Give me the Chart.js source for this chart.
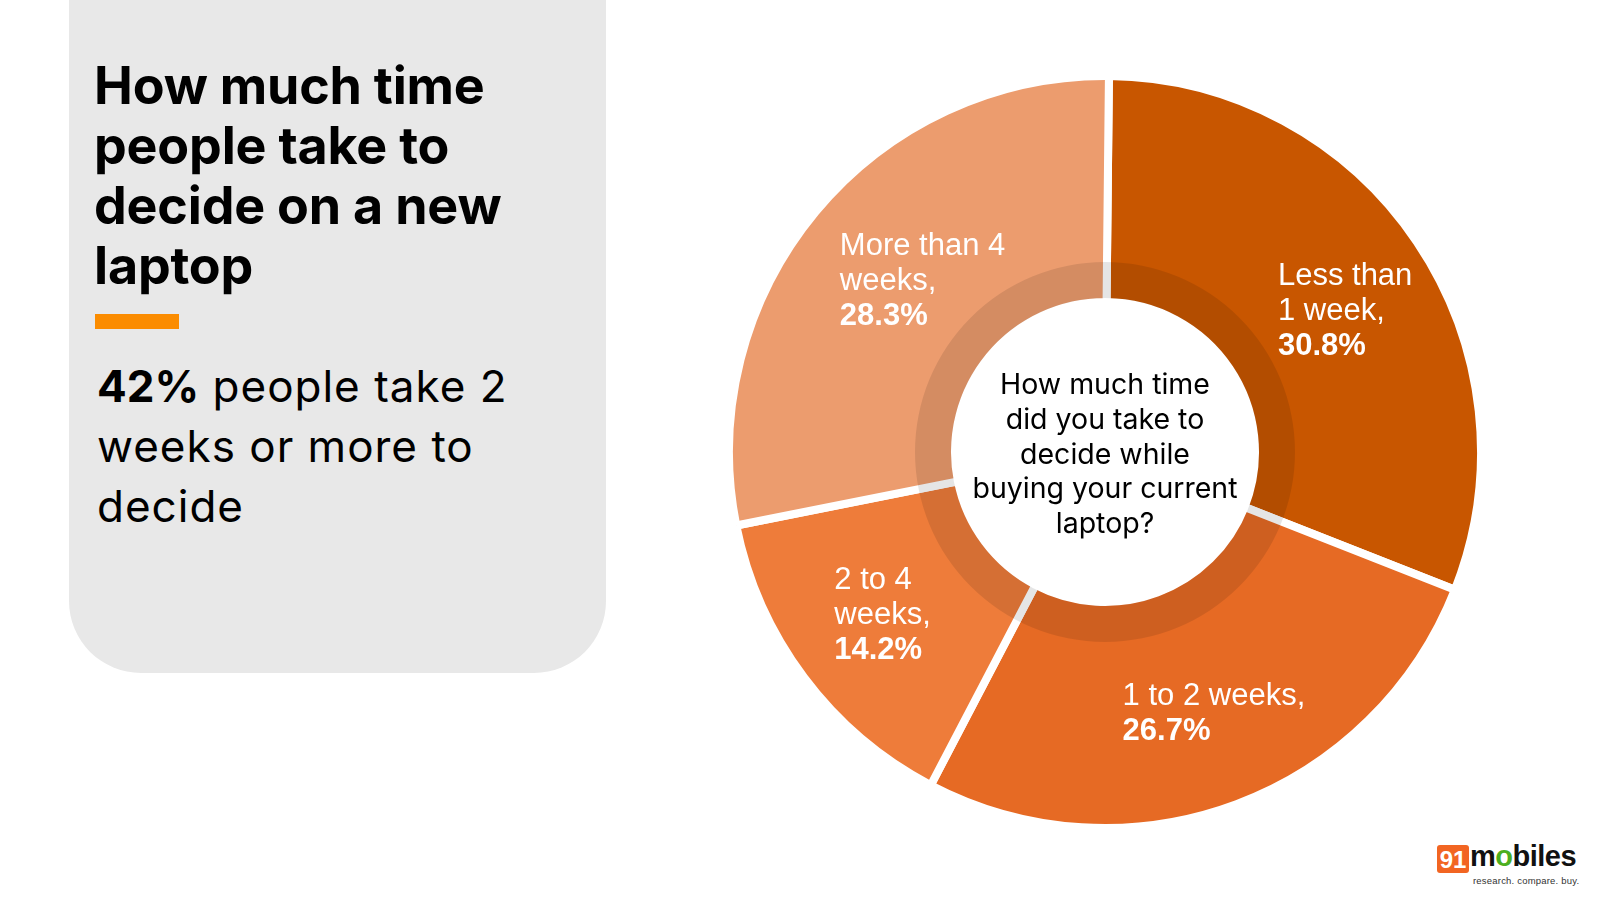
<!DOCTYPE html>
<html>
<head>
<meta charset="utf-8">
<title>Laptop decision time</title>
<script src="https://cdn.jsdelivr.net/npm/chart.js@4.4.1/dist/chart.umd.min.js"></script>
<style>
  html, body { margin: 0; padding: 0; width: 1600px; height: 900px; background: #fff; overflow: hidden; font-family: Inter, 'Noto Sans', sans-serif; }
  #panel { position: absolute; left: 69px; top: -100px; width: 537px; height: 773px; background: #E8E8E8; border-radius: 0 0 72px 72px; }
  #title { position: absolute; left: 94px; top: 56px; font-size: 52px; line-height: 60px; font-weight: 700; color: #000; letter-spacing: -0.2px; }
  #bar { position: absolute; left: 95px; top: 314px; width: 84px; height: 15px; background: #FB8C00; }
  #sub { position: absolute; left: 97px; top: 356px; font-size: 44px; line-height: 60px; color: #000; letter-spacing: 1px; }
  #sub b { font-weight: 700; letter-spacing: 0; }
  #wrap { position: absolute; left: 725px; top: 72px; width: 760px; height: 760px; }
  #logo { position: absolute; left: 1437px; top: 845px; height: 40px; }
  #logo .box { position: absolute; left: 0; top: 0; width: 32px; height: 28px; background: #F26522; color: #fff; font: 700 24px 'Liberation Sans', Arial, sans-serif; line-height: 29px; text-align: center; border-radius: 3px; }
  #logo .word { position: absolute; left: 33px; top: -5px; font: 700 29px 'Liberation Sans', Arial, sans-serif; color: #111; letter-spacing: -0.5px; white-space: nowrap; }
  #logo .word span { color: #4CAF1F; }
  #logo .tag { position: absolute; left: 36px; top: 30px; font: 9.5px 'Liberation Sans', Arial, sans-serif; color: #333; white-space: nowrap; letter-spacing: 0.2px; }
</style>
</head>
<body>
<div id="panel"></div>
<div id="title">How much time<br>people take to<br>decide on a new<br>laptop</div>
<div id="bar"></div>
<div id="sub"><b>42%</b> people take 2<br>weeks or more to<br>decide</div>
<div id="wrap"><canvas id="chart" width="760" height="760"></canvas></div>
<div id="logo">
  <div class="box">91</div>
  <div class="word">m<span>o</span>biles</div>
  <div class="tag">research. compare. buy.</div>
</div>
<script>
// survey answers, clockwise from 12 o'clock
const categories = ['Less than 1 week', '1 to 2 weeks', '2 to 4 weeks', 'More than 4 weeks']
const shares = [30.8, 26.7, 14.2, 28.3]
const labelLines = [
  ['Less than', '1 week,'],
  ['1 to 2 weeks,'],
  ['2 to 4', 'weeks,'],
  ['More than 4', 'weeks,']
]
const sliceColors = ['#C85600', '#E66A24', '#EE7C3A', '#EC9C6E']
const centerLines = ['How much time', 'did you take to', 'decide while', 'buying your current', 'laptop?']

// nudges so the label blocks sit where the original puts them
const labelNudge = [[22, 4], [17, 14], [-12, 4], [20, -5]]

/**
 * Darker translucent band just outside the hole, then slice labels and the question.
 */
const decorations = {
  id: 'decorations',
  afterDatasetsDraw(chart) {
    const ctx = chart.ctx
    const arcs = chart.getDatasetMeta(0).data
    const { x, y, innerRadius } = arcs[0]

    ctx.save()
    ctx.beginPath()
    ctx.arc(x, y, innerRadius + 40, 0, Math.PI * 2)
    ctx.moveTo(x + innerRadius + 4, y)
    ctx.arc(x, y, innerRadius + 4, 0, Math.PI * 2)
    ctx.fillStyle = 'rgba(0, 0, 0, 0.1)'
    ctx.fill('evenodd')

    const lh = 35
    arcs.forEach((arc, i) => {
      const p = arc.getProps(['startAngle', 'endAngle', 'innerRadius', 'outerRadius', 'x', 'y'])
      const mid = (p.startAngle + p.endAngle) / 2
      const r = (p.innerRadius + p.outerRadius) / 2
      const cx = p.x + Math.cos(mid) * r
      const cy = p.y + Math.sin(mid) * r
      const lines = labelLines[i].map(t => ({ t, bold: false }))
      lines.push({ t: shares[i].toFixed(1) + '%', bold: true })
      let w = 0
      lines.forEach(l => {
        ctx.font = (l.bold ? 'bold ' : '') + '31px "Liberation Sans", Arial, sans-serif'
        w = Math.max(w, ctx.measureText(l.t).width)
      })
      const left = cx - w / 2 + labelNudge[i][0]
      const top = cy - (lines.length * lh) / 2 + labelNudge[i][1]
      ctx.fillStyle = '#fff'
      ctx.textAlign = 'left'
      ctx.textBaseline = 'alphabetic'
      lines.forEach((l, k) => {
        ctx.font = (l.bold ? 'bold ' : '') + '31px "Liberation Sans", Arial, sans-serif'
        ctx.fillText(l.t, left, top + k * lh + 28)
      })
    })

    ctx.fillStyle = '#000'
    ctx.font = '28.5px Inter, sans-serif'
    ctx.textAlign = 'center'
    ctx.textBaseline = 'middle'
    const step = 34.8
    centerLines.forEach((t, k) => {
      ctx.fillText(t, x, y + 3 + (k - (centerLines.length - 1) / 2) * step)
    })
    ctx.restore()
  }
}

new Chart(document.getElementById('chart'), {
  type: 'doughnut',
  data: {
    labels: categories,
    datasets: [{
      data: shares,
      backgroundColor: sliceColors,
      borderColor: '#fff',
      borderWidth: 8,
      hoverOffset: 0
    }]
  },
  options: {
    responsive: false,
    animation: false,
    rotation: 0.6,
    cutout: 150,
    layout: { padding: 0 },
    plugins: {
      legend: { display: false },
      tooltip: { enabled: false }
    }
  },
  plugins: [decorations]
})
</script>
</body>
</html>
